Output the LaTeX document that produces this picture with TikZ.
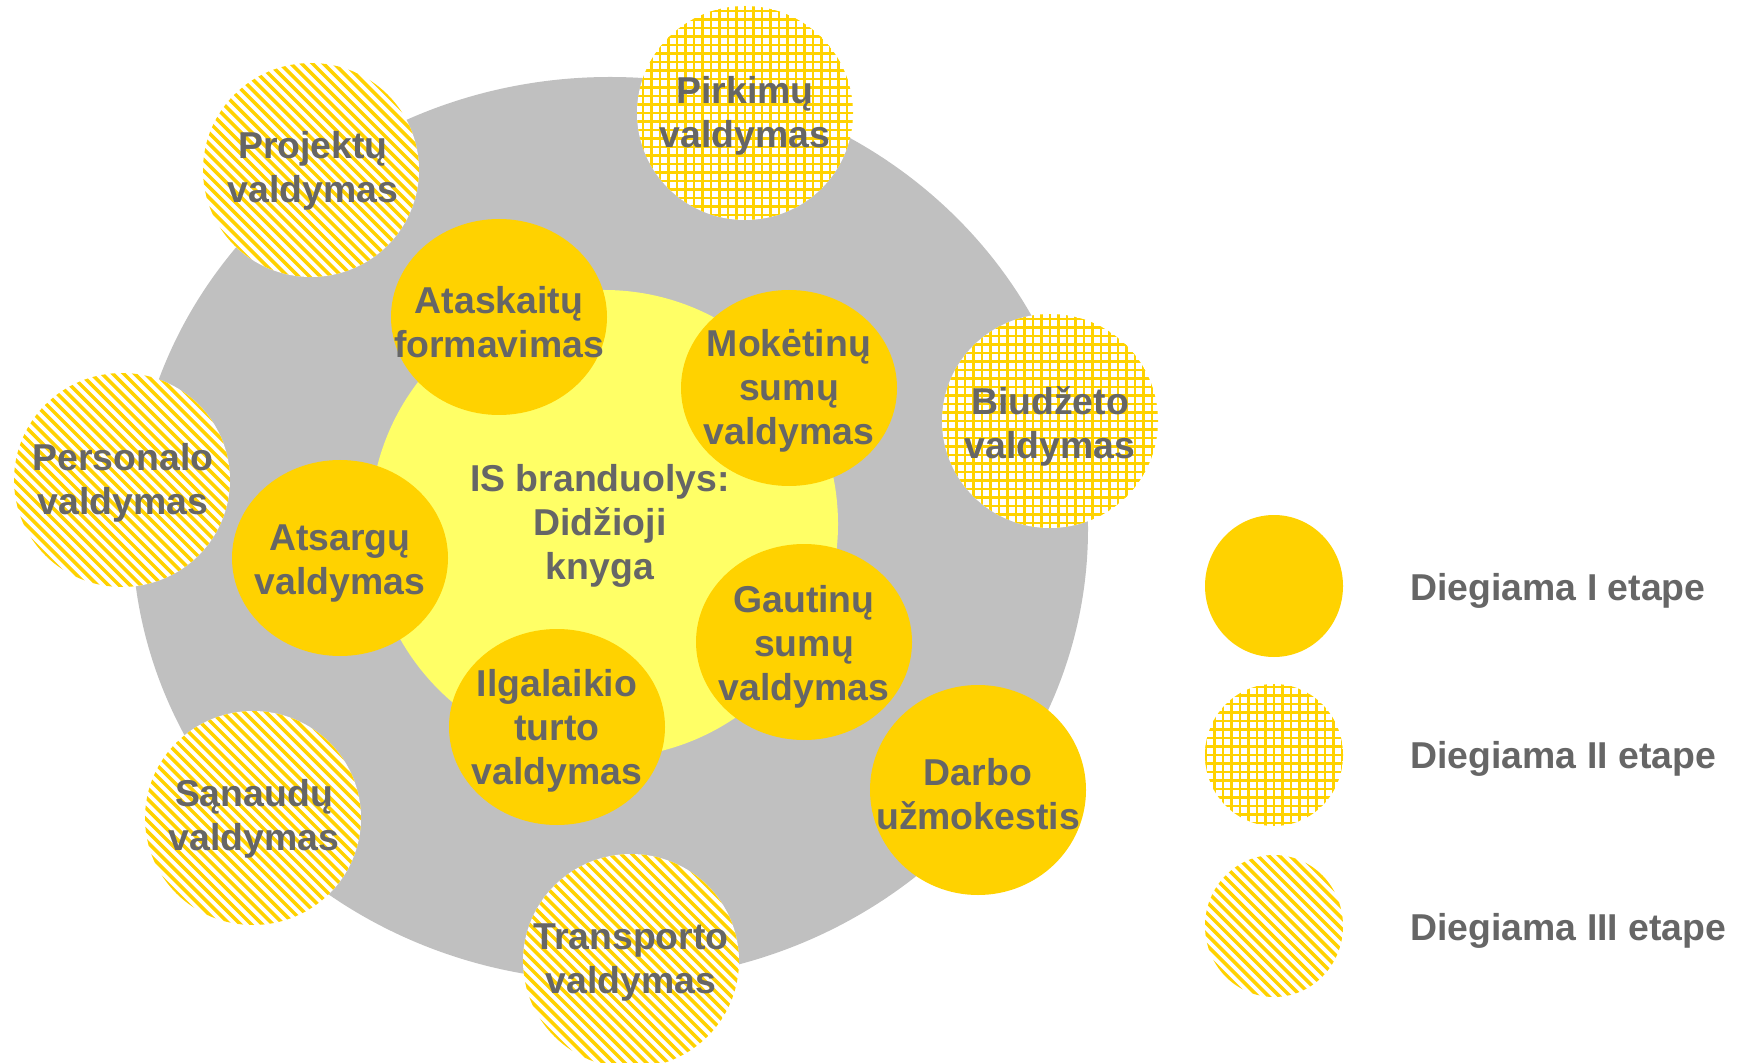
\documentclass[tikz,border=0pt]{standalone}
\usepackage{fontspec}
\setmainfont{Liberation Sans}
\usetikzlibrary{shapes.geometric}
\definecolor{grayring}{HTML}{C0C0C0}
\definecolor{ylw}{HTML}{FFD200}
\definecolor{lightylw}{HTML}{FFFF66}
\definecolor{txtgray}{HTML}{666666}
\tikzset{
 stripefill/.style={fill=white, path picture={\begin{scope}[shift={(path picture bounding box.center)}]
   \foreach \k in {-17,...,17}{\draw[ylw,line width=1.75pt] (\k*10.8-170,-170) -- (\k*10.8+170,170);}
   \end{scope}}},
 gridfill/.style={fill=white, path picture={\begin{scope}[shift={(path picture bounding box.center)}]
   \foreach \k in {-15,...,15}{\draw[ylw,line width=1.15pt] (\k*8.5,-130) -- (\k*8.5,130); \draw[ylw,line width=1.15pt] (-130,\k*8.5) -- (130,\k*8.5);}
   \end{scope}}},
 outerdisc/.style={ellipse, inner sep=0pt, minimum width=108pt, minimum height=107pt},
 innerdisc/.style={ellipse, inner sep=0pt, minimum width=108pt, minimum height=98pt, fill=ylw},
 legdisc/.style={ellipse, inner sep=0pt, minimum width=69pt, minimum height=71pt},
 lbl/.style={font=\bfseries\fontsize{18.7}{22}\selectfont, text=txtgray, align=center, inner sep=0pt},
}
\begin{document}
\begin{tikzpicture}[x=0.5pt,y=-0.5pt]
\fill[white] (0,0) rectangle (1738,1063);
\useasboundingbox (0,0) rectangle (1738,1063);
% background shapes
\node[ellipse, fill=grayring, inner sep=0pt, minimum width=478pt, minimum height=452pt] (ring) at (610,529) {};
\node[circle, fill=lightylw, inner sep=0pt, minimum size=234pt] (core) at (604,524) {};
\node[lbl] (core-t) at (600,526) {IS branduolys:\\Didžioji\\knyga};
% inner stage I discs
\node[innerdisc] (atask) at (499,317) {};
\node[lbl] (atask-t) at (499,322) {Ataskaitų\\formavimas};
\node[innerdisc] (moket) at (789,388) {};
\node[lbl] (moket-t) at (789,391) {Mokėtinų\\sumų\\valdymas};
\node[innerdisc] (atsarg) at (340,558) {};
\node[lbl] (atsarg-t) at (340,564) {Atsargų\\valdymas};
\node[innerdisc] (gaut) at (804,642) {};
\node[lbl] (gaut-t) at (804,647) {Gautinų\\sumų\\valdymas};
\node[innerdisc] (ilg) at (557,727) {};
\node[lbl] (ilg-t) at (557,731) {Ilgalaikio\\turto\\valdymas};
% outer discs
\node[outerdisc, gridfill] (pirk) at (745,113) {};
\node[lbl] (pirk-t) at (745,116) {Pirkimų\\valdymas};
\node[outerdisc, stripefill] (proj) at (311,170) {};
\node[lbl] (proj-t) at (313,171) {Projektų\\valdymas};
\node[outerdisc, stripefill] (pers) at (122,480) {};
\node[lbl] (pers-t) at (123,483) {Personalo\\valdymas};
\node[outerdisc, stripefill] (sanaud) at (253,818) {};
\node[lbl] (sanaud-t) at (254,819) {Sąnaudų\\valdymas};
\node[outerdisc, stripefill] (transp) at (631,961) {};
\node[lbl] (transp-t) at (631,963) {Transporto\\valdymas};
\node[outerdisc, gridfill] (biud) at (1050,421) {};
\node[lbl] (biud-t) at (1050,426) {Biudžeto\\valdymas};
\node[outerdisc, fill=ylw, minimum height=105pt] (darbo) at (978,790) {};
\node[lbl] (darbo-t) at (978,794) {Darbo\\užmokestis};
% legend
\node[legdisc, fill=ylw] (leg1) at (1274,586) {};
\node[legdisc, gridfill] (leg2) at (1274,755) {};
\node[legdisc, stripefill] (leg3) at (1274,926) {};
\node[lbl, anchor=base west] (leg1-t) at (1410,600) {Diegiama I etape};
\node[lbl, anchor=base west] (leg2-t) at (1410,768) {Diegiama II etape};
\node[lbl, anchor=base west] (leg3-t) at (1410,940) {Diegiama III etape};
\end{tikzpicture}
\end{document}
